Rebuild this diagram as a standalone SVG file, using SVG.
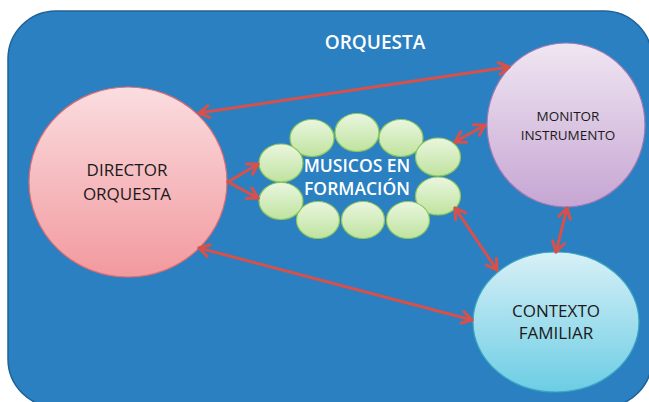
<svg xmlns="http://www.w3.org/2000/svg" width="649" height="402" viewBox="0 0 649 402">
<defs>
<linearGradient id="gDir" x1="0" y1="0" x2="0" y2="1"><stop offset="0" stop-color="#fadde0"/><stop offset="1" stop-color="#f2999e"/></linearGradient>
<linearGradient id="gMon" x1="0" y1="0" x2="0" y2="1"><stop offset="0" stop-color="#f0e6f2"/><stop offset="1" stop-color="#c6a6d3"/></linearGradient>
<linearGradient id="gCtx" x1="0" y1="0" x2="0" y2="1"><stop offset="0" stop-color="#d8f0f7"/><stop offset="1" stop-color="#6ccde4"/></linearGradient>
<linearGradient id="gMus" x1="0" y1="0" x2="0" y2="1"><stop offset="0" stop-color="#eaf6df"/><stop offset="1" stop-color="#bfe39f"/></linearGradient>
<marker id="ah" markerUnits="userSpaceOnUse" markerWidth="16" markerHeight="16" viewBox="0 0 16 16" refX="13" refY="8" orient="auto-start-reverse">
<path d="M3,2 L13,8 L3,14" fill="none" stroke="#d9504a" stroke-width="3" stroke-linecap="round" stroke-linejoin="round"/>
</marker>
<style>
.lbl{font-family:"Open Sans","Noto Sans",sans-serif;fill:#1a1a1a;text-anchor:middle}
.wl{font-family:"Open Sans","Noto Sans",sans-serif;fill:#ffffff;text-anchor:middle;font-weight:600}
.mus{fill:url(#gMus);stroke:#8cc65c;stroke-width:1.2}
.con{stroke:#d9504a;stroke-width:3;fill:none;stroke-linecap:round}
</style>
</defs>
<rect x="0" y="0" width="649" height="402" fill="#ffffff"/>
<g id="orquesta">
<rect x="8" y="11" width="644" height="396" rx="48" ry="48" fill="#2a80c1" stroke="#1f6296" stroke-width="1.5"/>
<text class="wl" x="375" y="49" font-size="19" font-weight="700">ORQUESTA</text>
</g>
<g id="director">
<ellipse cx="128" cy="182" rx="99" ry="95" fill="url(#gDir)" stroke="#de6d72" stroke-width="1.2"/>
<text class="lbl" x="127" y="176" font-size="17">DIRECTOR</text>
<text class="lbl" x="127" y="200" font-size="17">ORQUESTA</text>
</g>
<g id="monitor">
<ellipse cx="566" cy="125" rx="79" ry="82" fill="url(#gMon)" stroke="#9f7ab3" stroke-width="1.2"/>
<text class="lbl" x="568" y="121" font-size="13.5">MONITOR</text>
<text class="lbl" x="568" y="140" font-size="13.5">INSTRUMENTO</text>
</g>
<g id="contexto">
<ellipse cx="556" cy="322" rx="83" ry="70" fill="url(#gCtx)" stroke="#3aa6c0" stroke-width="1.2"/>
<text class="lbl" x="556" y="317" font-size="17">CONTEXTO</text>
<text class="lbl" x="556" y="339" font-size="17">FAMILIAR</text>
</g>
<g id="musicos">
<ellipse class="mus" cx="312" cy="138" rx="22" ry="18.5"/>
<ellipse class="mus" cx="357" cy="132.5" rx="22" ry="19"/>
<ellipse class="mus" cx="401" cy="138" rx="22" ry="18.5"/>
<ellipse class="mus" cx="438" cy="157" rx="22.5" ry="19"/>
<ellipse class="mus" cx="438" cy="196" rx="22.5" ry="19"/>
<ellipse class="mus" cx="408" cy="220" rx="21.5" ry="18.5"/>
<ellipse class="mus" cx="363" cy="220" rx="21.5" ry="18.5"/>
<ellipse class="mus" cx="318" cy="220" rx="21.5" ry="18.5"/>
<ellipse class="mus" cx="281" cy="201" rx="22" ry="18.5"/>
<ellipse class="mus" cx="281" cy="163" rx="22" ry="19"/>
<text class="wl" x="357" y="172" font-size="17.5">MUSICOS EN</text>
<text class="wl" x="357" y="195" font-size="17.5">FORMACIÓN</text>
</g>
<g id="connectors">
<line class="con" x1="199" y1="113" x2="509" y2="67" marker-start="url(#ah)" marker-end="url(#ah)"/>
<line class="con" x1="199" y1="248" x2="472" y2="320" marker-start="url(#ah)" marker-end="url(#ah)"/>
<line class="con" x1="228" y1="182" x2="258" y2="164" marker-end="url(#ah)"/>
<line class="con" x1="228" y1="182" x2="258" y2="198" marker-end="url(#ah)"/>
<line class="con" x1="455" y1="142" x2="485" y2="125" marker-start="url(#ah)" marker-end="url(#ah)"/>
<line class="con" x1="455" y1="208" x2="497" y2="270" marker-start="url(#ah)" marker-end="url(#ah)"/>
<line class="con" x1="567" y1="208" x2="556" y2="252" marker-start="url(#ah)" marker-end="url(#ah)"/>
</g>
</svg>
